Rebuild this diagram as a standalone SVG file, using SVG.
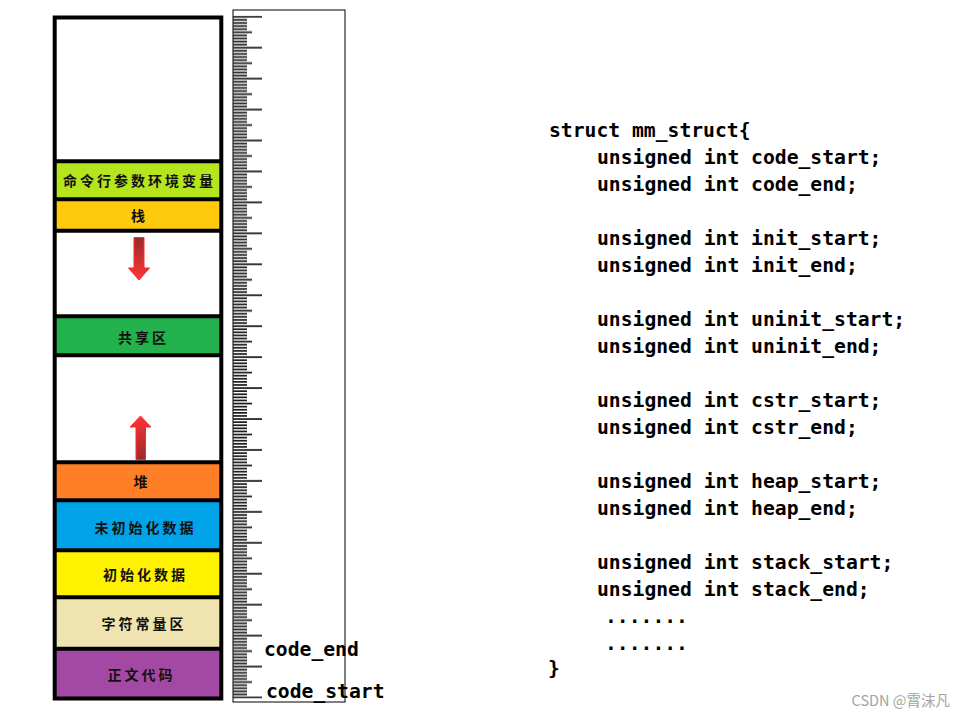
<svg xmlns="http://www.w3.org/2000/svg" width="964" height="719" viewBox="0 0 964 719">
<style>
.lbl{font-family:"Noto Sans CJK SC","Noto Sans",sans-serif;font-size:14px;font-weight:700;fill:#111;text-anchor:middle;letter-spacing:3px}
.code{font-family:"DejaVu Sans Mono","Liberation Mono",monospace;font-size:19.7px;font-weight:700;fill:#000}
.div{stroke:#000;stroke-width:4}
.wm{font-family:"Noto Sans CJK SC","Noto Sans",sans-serif;font-size:14.5px;fill:#a3a3a3;text-anchor:end}
</style>
<defs>
<pattern id="ticks" patternUnits="userSpaceOnUse" x="233" y="15.7" width="30" height="30.945">
<rect x="0" y="0.2" width="29" height="1.7" fill="#1a1a1a"/>
<rect x="0" y="3.29" width="14" height="1.7" fill="#1a1a1a"/>
<rect x="0" y="6.39" width="14" height="1.7" fill="#1a1a1a"/>
<rect x="0" y="9.48" width="14" height="1.7" fill="#1a1a1a"/>
<rect x="0" y="12.58" width="14" height="1.7" fill="#1a1a1a"/>
<rect x="0" y="15.67" width="19" height="1.7" fill="#1a1a1a"/>
<rect x="0" y="18.77" width="14" height="1.7" fill="#1a1a1a"/>
<rect x="0" y="21.86" width="14" height="1.7" fill="#1a1a1a"/>
<rect x="0" y="24.96" width="14" height="1.7" fill="#1a1a1a"/>
<rect x="0" y="28.05" width="14" height="1.7" fill="#1a1a1a"/>
</pattern>
<linearGradient id="gDown" x1="0" y1="0" x2="0" y2="1">
<stop offset="0" stop-color="#9a2a2c"/>
<stop offset="1" stop-color="#ff3535"/>
</linearGradient>
<linearGradient id="gUp" x1="0" y1="0" x2="0" y2="1">
<stop offset="0" stop-color="#ff3535"/>
<stop offset="1" stop-color="#9a2a2c"/>
</linearGradient>
</defs>
<rect width="964" height="719" fill="#fff"/>

<g id="ruler">
<rect x="233" y="10" width="112" height="692" fill="#fff" stroke="#000" stroke-width="1"/>
<rect x="233" y="15.7" width="29" height="682.8" fill="url(#ticks)"/>
<text class="code" x="264" y="655.5">code_end</text>
<text class="code" x="266" y="698">code_start</text>
</g>

<g id="memory-column">
<rect x="54.7" y="17.5" width="166.6" height="681" fill="#fff"/>
<g id="env"><rect x="55" y="161.3" width="166" height="37.9" fill="#b5e61d"/><text class="lbl" x="139.5" y="186">命令行参数环境变量</text></g>
<g id="stack"><rect x="55" y="199.2" width="166" height="31.6" fill="#ffc90e"/><text class="lbl" x="139.5" y="220.5">栈</text></g>
<g id="shared"><rect x="55" y="316.3" width="166" height="39" fill="#22b14c"/><text class="lbl" x="143.5" y="342.5">共享区</text></g>
<g id="heap"><rect x="55" y="462.3" width="166" height="37.9" fill="#ff7f27"/><text class="lbl" x="142" y="487">堆</text></g>
<g id="bss"><rect x="55" y="500.2" width="166" height="50" fill="#00a2e8"/><text class="lbl" x="145.5" y="533.3">未初始化数据</text></g>
<g id="data"><rect x="55" y="550.2" width="166" height="47" fill="#fff200"/><text class="lbl" x="145.5" y="580">初始化数据</text></g>
<g id="rodata"><rect x="55" y="597.2" width="166" height="51.5" fill="#efe4b0"/><text class="lbl" x="144" y="629.3">字符常量区</text></g>
<g id="text-seg"><rect x="55" y="648.7" width="166" height="50" fill="#a349a4"/><text class="lbl" x="141.5" y="680">正文代码</text></g>
<g id="dividers">
<line class="div" x1="55" y1="161.3" x2="221" y2="161.3"/>
<line class="div" x1="55" y1="199.2" x2="221" y2="199.2"/>
<line class="div" x1="55" y1="230.8" x2="221" y2="230.8"/>
<line class="div" x1="55" y1="316.3" x2="221" y2="316.3"/>
<line class="div" x1="55" y1="355.3" x2="221" y2="355.3"/>
<line class="div" x1="55" y1="462.3" x2="221" y2="462.3"/>
<line class="div" x1="55" y1="500.2" x2="221" y2="500.2"/>
<line class="div" x1="55" y1="550.2" x2="223" y2="550.2"/>
<line class="div" x1="55" y1="597.2" x2="223" y2="597.2"/>
<line class="div" x1="55" y1="648.7" x2="223" y2="648.7"/>
</g>
<rect x="54.7" y="17.5" width="166.6" height="681" fill="none" stroke="#000" stroke-width="4"/>
</g>

<g id="connectors">
<polygon points="134,237.5 144,237.5 144,268 149.5,268 139,280 128.5,268 134,268" fill="url(#gDown)" stroke="#ff2a2a" stroke-width="1"/>
<polygon points="140.5,416 151,427 145.5,427 145.5,459.5 136,459.5 136,427 130,427" fill="url(#gUp)" stroke="#ff2a2a" stroke-width="1"/>
</g>

<g id="struct-code">
<text class="code" x="549" y="137">struct mm_struct{</text>
<text class="code" x="597" y="164">unsigned int code_start;</text>
<text class="code" x="597" y="191">unsigned int code_end;</text>
<text class="code" x="597" y="245">unsigned int init_start;</text>
<text class="code" x="597" y="272">unsigned int init_end;</text>
<text class="code" x="597" y="326">unsigned int uninit_start;</text>
<text class="code" x="597" y="353">unsigned int uninit_end;</text>
<text class="code" x="597" y="407">unsigned int cstr_start;</text>
<text class="code" x="597" y="434">unsigned int cstr_end;</text>
<text class="code" x="597" y="488">unsigned int heap_start;</text>
<text class="code" x="597" y="515">unsigned int heap_end;</text>
<text class="code" x="597" y="569">unsigned int stack_start;</text>
<text class="code" x="597" y="596">unsigned int stack_end;</text>
<text class="code" x="605" y="623">.......</text>
<text class="code" x="605" y="650">.......</text>
<text class="code" x="548" y="675">}</text>
</g>

<text class="wm" x="950" y="706">CSDN @霄沫凡</text>
</svg>
